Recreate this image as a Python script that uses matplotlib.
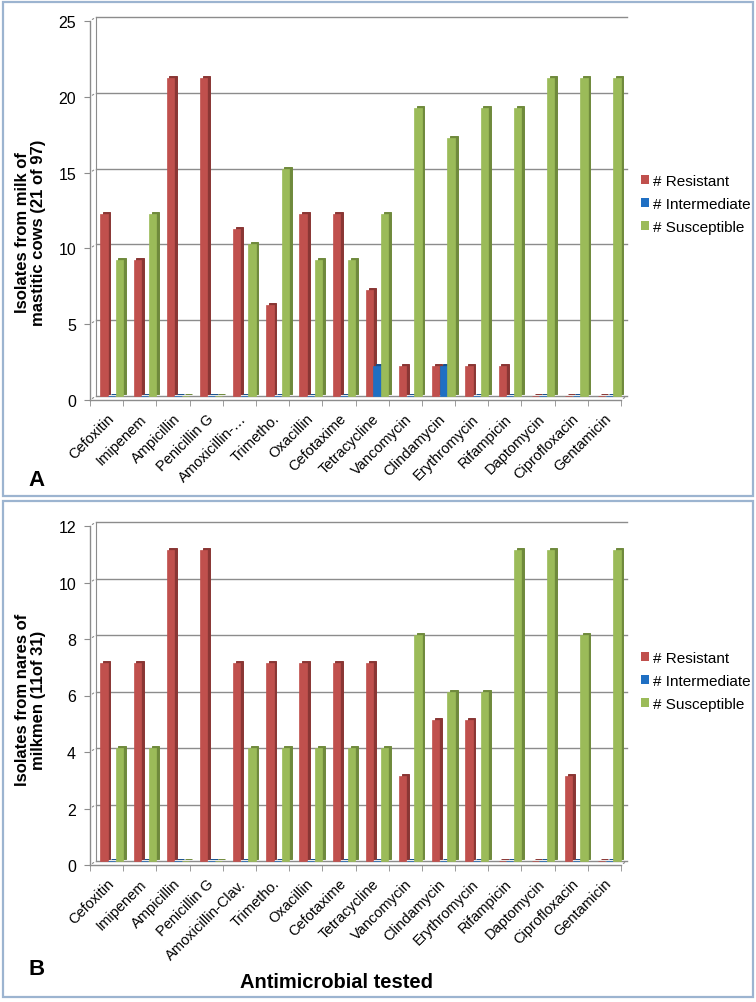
import matplotlib.pyplot as plt
import matplotlib.transforms as mtransforms
from matplotlib.patches import Rectangle, Patch

plt.rcParams['font.family'] = ['Liberation Sans', 'DejaVu Sans']

drugs_a = ['Cefoxitin', 'Imipenem', 'Ampicillin', 'Penicillin G', 'Amoxicillin-…',
           'Trimetho.', 'Oxacillin', 'Cefotaxime', 'Tetracycline', 'Vancomycin',
           'Clindamycin', 'Erythromycin', 'Rifampicin', 'Daptomycin',
           'Ciprofloxacin', 'Gentamicin']
drugs_b = ['Cefoxitin', 'Imipenem', 'Ampicillin', 'Penicillin G', 'Amoxicillin-Clav.',
           'Trimetho.', 'Oxacillin', 'Cefotaxime', 'Tetracycline', 'Vancomycin',
           'Clindamycin', 'Erythromycin', 'Rifampicin', 'Daptomycin',
           'Ciprofloxacin', 'Gentamicin']

resistant_a = [12, 9, 21, 21, 11, 6, 12, 12, 7, 2, 2, 2, 2, 0, 0, 0]
intermediate_a = [0, 0, 0, 0, 0, 0, 0, 0, 2, 0, 2, 0, 0, 0, 0, 0]
susceptible_a = [9, 12, 0, 0, 10, 15, 9, 9, 12, 19, 17, 19, 19, 21, 21, 21]

resistant_b = [7, 7, 11, 11, 7, 7, 7, 7, 7, 3, 5, 5, 0, 0, 3, 0]
intermediate_b = [0] * 16
susceptible_b = [4, 4, 0, 0, 4, 4, 4, 4, 4, 8, 6, 6, 11, 11, 8, 11]

series_names = ['# Resistant', '# Intermediate', '# Susceptible']
colors = ['#C0504D', '#1F6FC3', '#9BBB59']
dark_colors = ['#8A3634', '#164F8C', '#6F8A3C']

GRID = '#8C8C8C'


def draw_panel(fig, rect, drugs, series, ymax, ystep, ylabel, label_y):
    ax = fig.add_axes(rect)
    n = len(drugs)
    ax.set_xlim(-0.5, n - 0.5)
    ax.set_ylim(0, ymax)
    for s in ax.spines.values():
        s.set_visible(False)

    # back plane offset for the pseudo 3D look
    back = ax.transData + mtransforms.ScaledTranslation(0.06, 0.04, fig.dpi_scale_trans)
    side = back + mtransforms.ScaledTranslation(0.028, 0.02, fig.dpi_scale_trans)

    yticks = list(range(0, ymax + 1, ystep))
    for y in yticks:
        ax.plot([-0.5, n - 0.5], [y, y], color=GRID, lw=1, transform=back, clip_on=False)
        ax.annotate('', xy=(-0.5, y), xycoords=back, xytext=(-0.5, y), textcoords='data',
                    arrowprops=dict(arrowstyle='-', color=GRID, lw=0.8))
    ax.plot([-0.5, -0.5], [0, ymax], color=GRID, lw=0.8, transform=back, clip_on=False)
    ax.plot([-0.5, -0.5], [0, ymax], color=GRID, lw=1, clip_on=False)
    ax.plot([-0.5, n - 0.5], [0, 0], color=GRID, lw=1, clip_on=False)
    ax.annotate('', xy=(n - 0.5, 0), xycoords=back, xytext=(n - 0.5, 0), textcoords='data',
                arrowprops=dict(arrowstyle='-', color=GRID, lw=0.8))

    offsets = [-0.26, -0.03, 0.2]
    w = 0.22
    xs = list(range(n))
    for vals, off, c, dc in zip(series, offsets, colors, dark_colors):
        pos = [x + off for x in xs]
        ax.bar(pos, vals, width=w, color=dc, edgecolor=dc, lw=0.7,
               transform=side, clip_on=False, zorder=2)
        ax.bar(pos, vals, width=w, color=c, edgecolor=c, lw=0.5,
               transform=back, clip_on=False, zorder=3)

    ax.set_yticks(yticks)
    ax.set_yticklabels([str(y) for y in yticks], fontsize=11.5)
    ax.tick_params(axis='y', length=4, color=GRID, pad=6)
    ax.set_xticks([x - 0.5 for x in range(n + 1)], minor=True)
    ax.set_xticks(xs)
    ax.set_xticklabels(drugs, rotation=45, ha='right', rotation_mode='anchor', fontsize=10.5)
    ax.tick_params(axis='x', which='major', length=0, pad=8)
    ax.tick_params(axis='x', which='minor', length=4, color=GRID)
    ax.set_ylabel(ylabel, fontsize=12, fontweight='bold', linespacing=1.1)
    ax.yaxis.set_label_coords(-0.083, label_y)
    return ax


fig = plt.figure(figsize=(7.56, 10.03), dpi=100)

for y0, h in [(3, 494), (502, 496)]:
    fig.patches.append(Rectangle((3 / 756, 1 - (y0 + h) / 1003), 750 / 756, h / 1003,
                                 transform=fig.transFigure, fill=False,
                                 edgecolor='#9CB4D0', lw=1.6))

draw_panel(fig, [90 / 756, 1 - 401 / 1003, 531 / 756, 379 / 1003], drugs_a,
           [resistant_a, intermediate_a, susceptible_a], 25, 5,
           'Isolates from milk of\nmastitic cows (21 of 97)', 0.445)
draw_panel(fig, [90 / 756, 1 - 866 / 1003, 531 / 756, 339 / 1003], drugs_b,
           [resistant_b, intermediate_b, susceptible_b], 12, 2,
           'Isolates from nares of\nmilkmen (11of 31)', 0.49)

handles = [Patch(facecolor=c, edgecolor='none') for c in colors]
for yc in [1 - 205 / 1003, 1 - 682 / 1003]:
    fig.legend(handles, series_names, loc='center left', bbox_to_anchor=(641 / 756, yc),
               frameon=False, fontsize=11, handlelength=0.5, handleheight=0.5,
               handletextpad=0.3, labelspacing=0.6, borderpad=0, borderaxespad=0)

fig.text(28 / 756, 1 - 480 / 1003, 'A', fontsize=16, fontweight='bold', va='center')
fig.text(28 / 756, 1 - 970 / 1003, 'B', fontsize=16, fontweight='bold', va='center')
fig.text(337 / 756, 1 - 983 / 1003, 'Antimicrobial tested', fontsize=14.5,
         fontweight='bold', ha='center', va='center')

fig.savefig('out.png', dpi=100)
